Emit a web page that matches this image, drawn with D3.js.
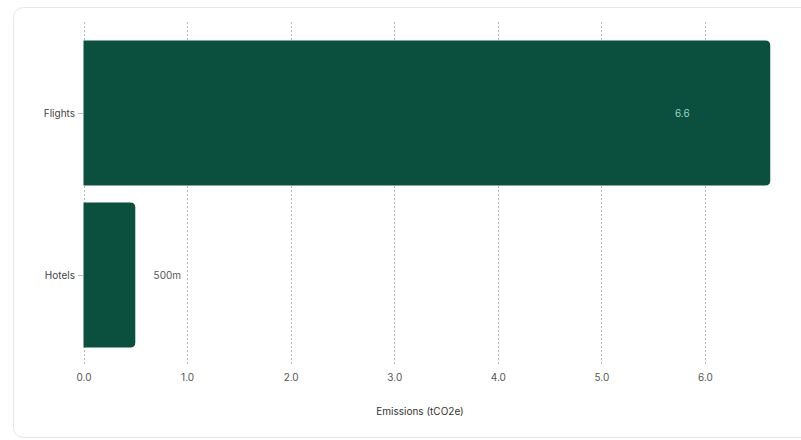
<!DOCTYPE html>
<html><head><meta charset="utf-8">
<script src="https://cdn.jsdelivr.net/npm/d3@7"></script>
<style>body{margin:0;background:#fff;font-family:Inter,"Noto Sans",sans-serif;}</style>
</head><body>
<svg id="c" width="801" height="440"></svg>
<script>
const categories = ["Flights", "Hotels"];
const values = [6.63, 0.5];
const valueLabels = ["6.6", "500m"];
const xTicks = [0, 1, 2, 3, 4, 5, 6];
const xTickLabels = ["0.0", "1.0", "2.0", "3.0", "4.0", "5.0", "6.0"];
const axisTitle = "Emissions (tCO2e)";

const svg = d3.select("#c");
svg.append("rect").attr("x", 13.5).attr("y", 7.5).attr("width", 800).attr("height", 430)
  .attr("rx", 10).attr("fill", "#fff").attr("stroke", "#e6e6e6");

const x = d3.scaleLinear().domain([0, 6]).range([83.5, 705]);
const y = d3.scaleBand().domain(categories).range([32, 356]).paddingInner(0.105).paddingOuter(0.0525);

// grid
svg.append("g").selectAll("line").data(xTicks).join("line")
  .attr("x1", d => Math.round(x(d)) + 0.5).attr("x2", d => Math.round(x(d)) + 0.5)
  .attr("y1", 22).attr("y2", 366)
  .attr("stroke", "#b8b8b8").attr("stroke-width", 1).attr("stroke-dasharray", "2,2");

// bars with right rounded corners
const r = 5;
svg.append("g").selectAll("path").data(categories).join("path")
  .attr("d", (c, i) => {
    const x0 = x(0), x1 = x(values[i]), y0 = y(c), h = y.bandwidth();
    return `M${x0},${y0}H${x1 - r}Q${x1},${y0} ${x1},${y0 + r}V${y0 + h - r}Q${x1},${y0 + h} ${x1 - r},${y0 + h}H${x0}Z`;
  })
  .attr("fill", "#0b4f3f");

// value labels
svg.append("g").selectAll("text").data(categories).join("text")
  .attr("x", (c, i) => i === 0 ? x(values[i]) - 88 : x(values[i]) + 32)
  .attr("y", c => y(c) + y.bandwidth() / 2)
  .attr("dy", "0.35em").attr("text-anchor", "middle")
  .attr("font-size", 10)
  .attr("fill", (c, i) => i === 0 ? "#9fd3c0" : "#555")
  .text((c, i) => valueLabels[i]);

// y axis labels + tick marks
const ya = svg.append("g");
ya.selectAll("text").data(categories).join("text")
  .attr("x", 75).attr("y", c => y(c) + y.bandwidth() / 2).attr("dy", "0.35em")
  .attr("text-anchor", "end").attr("font-size", 10).attr("fill", "#444").text(c => c);
ya.selectAll("line").data(categories).join("line")
  .attr("x1", 78).attr("x2", 83).attr("y1", c => y(c) + y.bandwidth() / 2 + 0.5).attr("y2", c => y(c) + y.bandwidth() / 2 + 0.5)
  .attr("stroke", "#bbb");

// x tick labels
svg.append("g").selectAll("text").data(xTicks).join("text")
  .attr("x", d => x(d) + 0.5).attr("y", 377).attr("dy", "0.35em").attr("text-anchor", "middle")
  .attr("font-size", 10).attr("fill", "#555").text((d, i) => xTickLabels[i]);

svg.append("text").attr("x", 420).attr("y", 411).attr("dy", "0.35em").attr("text-anchor", "middle")
  .attr("font-size", 10).attr("fill", "#333").text(axisTitle);
</script>
</body></html>
